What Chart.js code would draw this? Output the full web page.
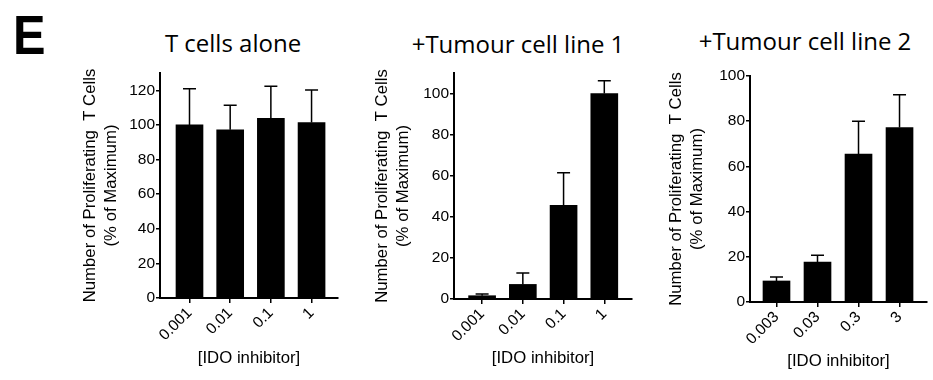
<!DOCTYPE html>
<html>
<head>
<meta charset="utf-8">
<title>IDO inhibitor</title>
<script src="https://cdn.jsdelivr.net/npm/chart.js@4.4.1/dist/chart.umd.min.js"></script>
<style>
  body { margin:0; background:#fff; }
  #wrap { position:relative; width:933px; height:380px; overflow:hidden; }
  #wrap canvas { position:absolute; left:0; top:0; }
  .ttl { position:absolute; font-family:"Open Sans", sans-serif; font-size:24px; line-height:1; color:#000; white-space:nowrap; transform:translateX(-50%); }
  #lbl { position:absolute; left:13px; top:7px; font-family:"Liberation Sans", Arial, sans-serif; font-weight:bold; font-size:56px; line-height:1; transform-origin:0 0; transform:scaleX(0.87); }
</style>
</head>
<body>
<div id="wrap">
  <div id="lbl">E</div>
  <div class="ttl" style="left:233px; top:31px">T cells alone</div>
  <div class="ttl" style="left:518px; top:32px">+Tumour cell line 1</div>
  <div class="ttl" style="left:805px; top:29px">+Tumour cell line 2</div>
  <canvas id="c1" width="933" height="380"></canvas>
  <canvas id="c2" width="933" height="380"></canvas>
  <canvas id="c3" width="933" height="380"></canvas>
</div>
<script>
// ---- data ----
var doses1 = ["0.001","0.01","0.1","1"];
var doses2 = ["0.003","0.03","0.3","3"];

var aloneVals = [100, 97.2, 103.8, 101.4];
var aloneErr  = [20.9, 14.1, 18.5, 18.8];

var line1Vals = [1.6, 7.1, 45.6, 100];
var line1Err  = [0.8, 5.5, 15.9, 6.2];

var line2Vals = [9.3, 17.7, 65.4, 77.2];
var line2Err  = [1.8, 3.0, 14.6, 14.5];

var yTitle = ["Number of Proliferating  T Cells", "(% of Maximum)"];
var xTitle = "[IDO inhibitor]";

// ----

// upper error bar (line + cap) above each bar
var errBars = {
  id: "errbars",
  afterDatasetsDraw: function(chart, args, opts) {
    var ctx = chart.ctx, y = chart.scales.y;
    var meta = chart.getDatasetMeta(0);
    var vals = chart.data.datasets[0].data;
    ctx.save();
    ctx.strokeStyle = "#000";
    ctx.lineWidth = 1.5;
    meta.data.forEach(function(bar, i) {
      var top = y.getPixelForValue(vals[i].y + opts.err[i]);
      ctx.beginPath();
      ctx.moveTo(bar.x, bar.y);
      ctx.lineTo(bar.x, top);
      ctx.moveTo(bar.x - 6.5, top);
      ctx.lineTo(bar.x + 6.5, top);
      ctx.stroke();
    });
    ctx.restore();
  }
};

var tickFont = { family: "'Liberation Sans', Arial, sans-serif", size: 15.5 };
var titleFont = { family: "'Liberation Sans', Arial, sans-serif", size: 16.75, lineHeight: 1.25 };

function makePanel(id, labels, vals, errs, p) {
  var pts = vals.map(function(v, i) { return { x: i, y: v }; });
  return new Chart(document.getElementById(id), {
    type: "bar",
    data: {
      datasets: [{ data: pts, backgroundColor: "#000", barThickness: 27, borderWidth: 0 }]
    },
    plugins: [errBars],
    options: {
      responsive: false,
      animation: false,
      events: [],
      layout: { padding: { left: p.left, right: p.right, top: p.top, bottom: 0 } },
      plugins: {
        legend: { display: false },
        tooltip: { enabled: false },
        errbars: { err: errs }
      },
      scales: {
        x: {
          type: "linear",
          offset: false,
          min: p.xmin, max: p.xmax,
          afterBuildTicks: function(ax) { ax.ticks = labels.map(function(l, i) { return { value: i }; }); },
          afterFit: function(ax) { ax.height = p.xh; ax.paddingLeft = 0; ax.paddingRight = 0; },
          ticks: {
            callback: function(v) { return labels[v]; },
            minRotation: 45, maxRotation: 45, autoSkip: false,
            color: "#000", font: tickFont, padding: 1
          },
          grid: { display: true, offset: false, drawOnChartArea: false, drawTicks: true, tickLength: 5, color: "#000", lineWidth: 1.5 },
          border: { display: true, color: "#000", width: 2 },
          title: { display: true, text: xTitle, color: "#000", font: titleFont, padding: { top: 0, bottom: p.xtp } }
        },
        y: {
          min: 0, max: p.ymax, bounds: "data",
          afterBuildTicks: function(ax) { ax.ticks = ax.ticks.filter(function(t) { return t.value % 20 === 0; }); },
          afterFit: function(ax) { ax.width = p.yw; ax.paddingTop = 0; ax.paddingBottom = 0; },
          ticks: { stepSize: 20, color: "#000", font: tickFont, padding: 1 },
          grid: { display: true, drawOnChartArea: false, drawTicks: true, tickLength: 4, color: "#000", lineWidth: 1.5 },
          border: { display: true, color: "#000", width: 2 },
          title: { display: true, text: yTitle, color: "#000", font: titleFont, padding: 0 }
        }
      }
    }
  });
}

makePanel("c1", doses1, aloneVals, aloneErr,
  { left: 80, right: 595, top: 73, yw: 80, xh: 82, xtp: 11.5, ymax: 130, xmin: -0.725, xmax: 3.65 });
makePanel("c2", doses1, line1Vals, line1Err,
  { left: 372, right: 301, top: 73, yw: 82, xh: 81, xtp: 11.2, ymax: 110, xmin: -0.69, xmax: 3.68 });
makePanel("c3", doses2, line2Vals, line2Err,
  { left: 666, right: 6, top: 76, yw: 84, xh: 78, xtp: 8, ymax: 100, xmin: -0.646, xmax: 3.67 });
</script>
</body>
</html>
